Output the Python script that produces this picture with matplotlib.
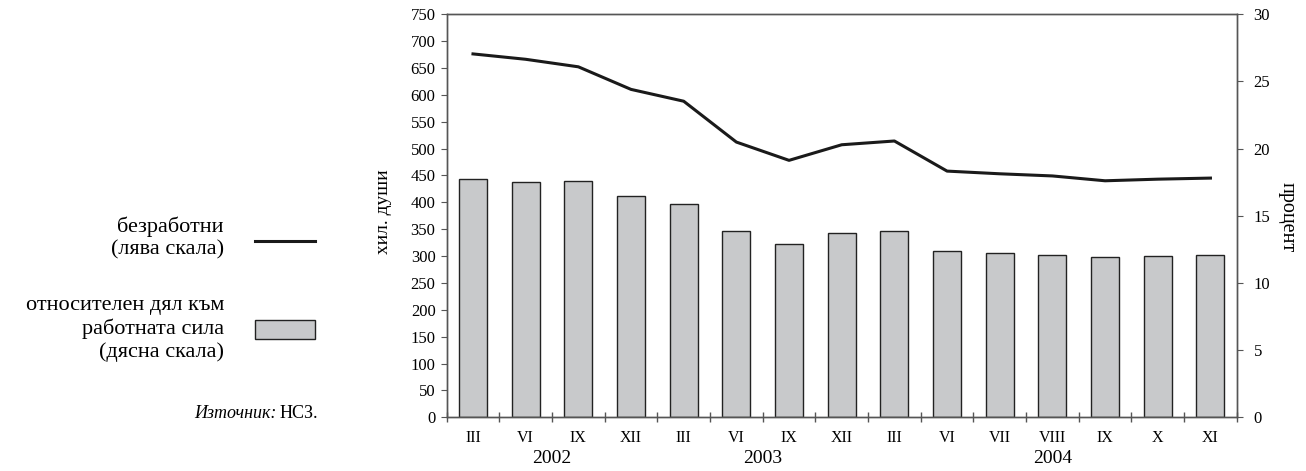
import matplotlib
matplotlib.use("Agg")
import matplotlib.pyplot as plt
import matplotlib.transforms as mtransforms
from matplotlib.patches import Rectangle
from matplotlib.lines import Line2D
import numpy as np

plt.rcParams['font.family'] = ['Liberation Serif', 'DejaVu Serif']

months = ["III", "VI", "IX", "XII", "III", "VI", "IX", "XII", "III", "VI", "VII", "VIII", "IX", "X", "XI"]
years = ["2002", "2003", "2004"]
year_spans = [(0, 3), (4, 7), (8, 14)]
unemployed = [676, 666, 652, 610, 588, 512, 478, 507, 514, 458, 453, 449, 440, 443, 445]
rate = [17.7, 17.5, 17.6, 16.45, 15.9, 13.85, 12.9, 13.7, 13.9, 12.4, 12.2, 12.1, 11.9, 12.0, 12.05]

edge = "#555555"
fig = plt.figure(figsize=(13.06, 4.71), dpi=100)
ax = fig.add_axes([0.342, 0.114, 0.605, 0.856])
ax2 = ax.twinx()

x = np.arange(len(months))
ax2.bar(x, rate, width=0.53, color="#c8c9cb", edgecolor="#222222", linewidth=1.0)
ax.plot(x, unemployed, color="#1a1a1a", linewidth=2.2, solid_joinstyle="round")

ax.set_zorder(ax2.get_zorder() + 1)
ax.patch.set_visible(False)

ax.set_xlim(-0.5, len(months) - 0.5)
ax.set_ylim(0, 750)
ax2.set_ylim(0, 30)
ax.set_yticks(np.arange(0, 751, 50))
ax2.set_yticks(np.arange(0, 31, 5))

ax.set_xticks(np.arange(-0.5, len(months), 1.0))
ax.set_xticklabels([])
ax.set_xticks(x, minor=True)
ax.set_xticklabels(months, minor=True)
ax.tick_params(axis="x", which="major", direction="inout", length=7, color=edge, width=1)
ax.tick_params(axis="x", which="minor", length=0, pad=9, labelsize=11.5)
ax.tick_params(axis="y", direction="out", length=4, color=edge, labelsize=12, pad=4)
ax2.tick_params(axis="y", direction="out", length=4, color=edge, labelsize=12, pad=8)
ax2.tick_params(axis="x", length=0)

for a in (ax, ax2):
    for s in a.spines.values():
        s.set_color(edge)
        s.set_linewidth(1.0)

trans = mtransforms.blended_transform_factory(ax.transData, ax.transAxes)
for yr, (a, b) in zip(years, year_spans):
    ax.text((a + b) / 2, -0.103, yr, transform=trans, ha="center", va="center", fontsize=14)

fig.text(383 / 1306, 1 - 212 / 471, "хил. души", rotation=90, ha="center", va="center", fontsize=14)
fig.text(1287 / 1306, 1 - 217 / 471, "процент", rotation=-90, ha="center", va="center", fontsize=14.5)

# legend on the left
fig.text(224 / 1306, 1 - 238 / 471, "безработни\n(лява скала)", ha="right", va="center",
         multialignment="right", fontsize=16, linespacing=1.22)
fig.add_artist(Line2D([255 / 1306, 315 / 1306], [1 - 241 / 471, 1 - 241 / 471],
                      color="#1a1a1a", linewidth=2.2, transform=fig.transFigure))
fig.text(224 / 1306, 1 - 329 / 471, "относителен дял към\nработната сила\n(дясна скала)", ha="right",
         va="center", multialignment="right", fontsize=16, linespacing=1.22)
fig.add_artist(Rectangle((255 / 1306, 1 - 339 / 471), 60 / 1306, 19 / 471, facecolor="#c8c9cb",
                         edgecolor="#222222", linewidth=1.0, transform=fig.transFigure))
fig.text(318 / 1306, 1 - 414 / 471, "НСЗ.", ha="right", va="center", fontsize=13)
fig.text(277 / 1306, 1 - 414 / 471, "Източник:", ha="right", va="center", fontsize=13, style="italic")

fig.savefig("out.png", dpi=100)
